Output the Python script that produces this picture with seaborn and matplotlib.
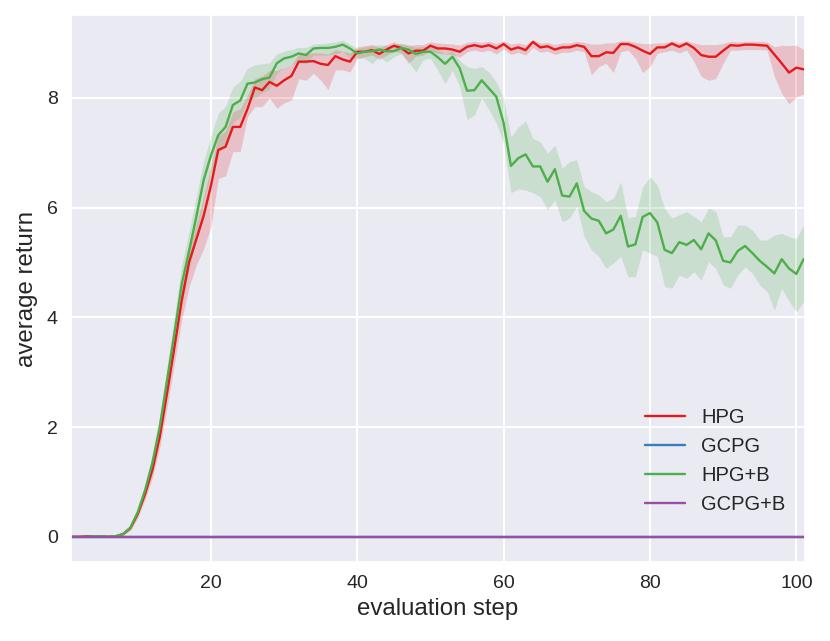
import matplotlib

matplotlib.use("Agg")
import matplotlib.pyplot as plt
import numpy as np
import pandas as pd
import seaborn as sns

steps = list(range(1, 102))
methods = ["HPG", "GCPG", "HPG+B", "GCPG+B"]
colors = ["#e41a1c", "#377eb8", "#4daf4a", "#984ea3"]

hpg_mean = [
    0.00, 0.00, 0.01, 0.01, 0.01, 0.00, 0.01, 0.05, 0.16, 0.42,
    0.78, 1.22, 1.82, 2.62, 3.45, 4.30, 5.00, 5.42, 5.85, 6.40,
    7.05, 7.11, 7.47, 7.47, 7.80, 8.19, 8.14, 8.29, 8.22, 8.32,
    8.40, 8.66, 8.66, 8.67, 8.62, 8.60, 8.76, 8.70, 8.66, 8.84,
    8.84, 8.87, 8.80, 8.88, 8.95, 8.91, 8.81, 8.86, 8.86, 8.95,
    8.90, 8.90, 8.88, 8.84, 8.93, 8.96, 8.93, 8.96, 8.90, 8.98,
    8.88, 8.92, 8.87, 9.02, 8.92, 8.94, 8.88, 8.92, 8.92, 8.96,
    8.93, 8.76, 8.76, 8.83, 8.82, 8.98, 8.98, 8.93, 8.86, 8.80,
    8.92, 8.92, 8.99, 8.93, 8.99, 8.91, 8.78, 8.75, 8.75, 8.86,
    8.96, 8.95, 8.97, 8.97, 8.96, 8.95, 8.79, 8.63, 8.46, 8.55,
    8.52,
]
hpg_lo = [
    0.00, 0.00, 0.00, 0.00, 0.00, 0.00, 0.00, 0.03, 0.12, 0.35,
    0.68, 1.08, 1.62, 2.35, 3.15, 3.95, 4.55, 4.95, 5.25, 5.65,
    6.53, 6.58, 7.02, 7.02, 7.66, 7.84, 7.84, 8.00, 7.81, 7.91,
    7.96, 8.35, 8.32, 8.45, 8.32, 8.15, 8.51, 8.51, 8.47, 8.72,
    8.75, 8.78, 8.70, 8.78, 8.85, 8.82, 8.63, 8.76, 8.78, 8.86,
    8.81, 8.80, 8.79, 8.74, 8.84, 8.87, 8.84, 8.87, 8.80, 8.89,
    8.79, 8.83, 8.78, 8.92, 8.83, 8.85, 8.79, 8.83, 8.83, 8.87,
    8.84, 8.42, 8.57, 8.63, 8.46, 8.84, 8.87, 8.72, 8.46, 8.57,
    8.81, 8.84, 8.87, 8.82, 8.87, 8.66, 8.39, 8.32, 8.35, 8.63,
    8.87, 8.87, 8.88, 8.88, 8.88, 8.87, 8.39, 8.08, 7.89, 8.02,
    8.07,
]
hpg_hi = [
    0.01, 0.01, 0.02, 0.02, 0.02, 0.01, 0.02, 0.07, 0.20, 0.50,
    0.88, 1.35, 2.00, 2.85, 3.70, 4.55, 5.20, 5.70, 6.20, 6.75,
    7.30, 7.40, 7.75, 7.80, 8.05, 8.35, 8.40, 8.50, 8.50, 8.55,
    8.60, 8.80, 8.80, 8.82, 8.82, 8.80, 8.88, 8.85, 8.82, 8.93,
    8.95, 8.97, 8.92, 8.97, 9.02, 8.98, 8.95, 8.97, 8.97, 9.02,
    9.00, 8.99, 8.98, 8.96, 9.01, 9.03, 9.01, 9.03, 8.99, 9.04,
    8.98, 9.00, 8.97, 9.06, 9.00, 9.01, 8.97, 9.00, 9.00, 9.03,
    9.01, 8.98, 8.98, 9.00, 9.00, 9.04, 9.04, 9.01, 8.99, 8.99,
    9.00, 9.00, 9.04, 9.01, 9.04, 9.00, 8.97, 8.97, 8.97, 8.99,
    9.03, 9.02, 9.03, 9.03, 9.03, 9.02, 8.93, 8.96, 8.95, 8.96,
    8.88,
]

hpgb_mean = [
    0.00, 0.00, 0.00, 0.01, 0.01, 0.00, 0.01, 0.05, 0.17, 0.45,
    0.85, 1.35, 2.00, 2.85, 3.70, 4.60, 5.20, 5.83, 6.50, 6.95,
    7.32, 7.47, 7.87, 7.95, 8.26, 8.28, 8.34, 8.37, 8.63, 8.72,
    8.75, 8.81, 8.78, 8.90, 8.91, 8.91, 8.93, 8.97, 8.90, 8.81,
    8.84, 8.85, 8.88, 8.85, 8.85, 8.91, 8.88, 8.80, 8.84, 8.84,
    8.74, 8.62, 8.75, 8.54, 8.13, 8.14, 8.32, 8.17, 8.02, 7.54,
    6.76, 6.90, 6.97, 6.75, 6.75, 6.47, 6.70, 6.22, 6.20, 6.44,
    5.94, 5.80, 5.76, 5.53, 5.60, 5.85, 5.29, 5.33, 5.83, 5.90,
    5.73, 5.23, 5.17, 5.37, 5.32, 5.41, 5.24, 5.53, 5.40, 5.03,
    5.00, 5.21, 5.30, 5.17, 5.03, 4.92, 4.80, 5.06, 4.89, 4.79,
    5.06,
]
hpgb_lo = [
    0.00, 0.00, 0.00, 0.00, 0.00, 0.00, 0.00, 0.03, 0.13, 0.38,
    0.75, 1.20, 1.80, 2.60, 3.40, 4.25, 4.85, 5.45, 6.10, 6.60,
    7.00, 7.15, 7.55, 7.65, 7.95, 8.00, 8.10, 8.15, 8.45, 8.55,
    8.60, 8.65, 8.62, 8.78, 8.78, 8.78, 8.80, 8.85, 8.72, 8.72,
    8.72, 8.62, 8.76, 8.65, 8.75, 8.80, 8.66, 8.47, 8.70, 8.72,
    8.50, 8.26, 8.50, 8.20, 7.60, 7.69, 8.00, 7.78, 7.54, 7.17,
    6.27, 6.34, 6.32, 6.27, 6.20, 5.96, 6.14, 5.74, 5.81, 6.02,
    5.47, 5.23, 5.11, 4.89, 4.99, 5.11, 4.74, 4.74, 5.23, 5.17,
    5.11, 4.56, 4.53, 4.77, 4.71, 4.83, 4.68, 5.01, 4.89, 4.59,
    4.53, 4.77, 4.92, 4.80, 4.59, 4.47, 4.13, 4.53, 4.29, 4.10,
    4.29,
]
hpgb_hi = [
    0.01, 0.01, 0.01, 0.02, 0.02, 0.01, 0.02, 0.07, 0.21, 0.52,
    0.95, 1.50, 2.20, 3.10, 4.00, 4.95, 5.55, 6.20, 6.85, 7.30,
    7.72, 7.85, 8.20, 8.30, 8.54, 8.60, 8.62, 8.64, 8.80, 8.85,
    8.88, 8.92, 8.92, 8.98, 8.99, 9.00, 9.02, 9.05, 8.98, 8.90,
    8.93, 8.95, 8.97, 8.95, 8.95, 9.00, 8.97, 8.92, 8.94, 8.93,
    8.88, 8.80, 8.85, 8.68, 8.57, 8.54, 8.57, 8.47, 8.29, 7.99,
    7.29, 7.47, 7.58, 7.26, 7.20, 6.99, 7.14, 6.72, 6.84, 6.87,
    6.38, 6.29, 6.23, 6.11, 6.17, 6.47, 5.81, 5.84, 6.38, 6.56,
    6.41, 5.99, 5.81, 5.87, 5.93, 5.84, 5.74, 5.99, 5.93, 5.47,
    5.47, 5.68, 5.68, 5.59, 5.41, 5.41, 5.50, 5.53, 5.47, 5.44,
    5.68,
]

# the two GCPG variants never leave zero
gcpg_mean = [0.0] * len(steps)
gcpgb_mean = [0.0] * len(steps)

means = {"HPG": hpg_mean, "GCPG": gcpg_mean, "HPG+B": hpgb_mean, "GCPG+B": gcpgb_mean}
bands = {"HPG": (hpg_lo, hpg_hi), "HPG+B": (hpgb_lo, hpgb_hi)}

df = pd.concat(
    [pd.DataFrame({"step": steps, "value": means[m], "method": m}) for m in methods],
    ignore_index=True,
)

sns.set_theme(style="darkgrid")
plt.rcParams["font.family"] = ["Liberation Sans", "DejaVu Sans"]

fig, ax = plt.subplots(figsize=(8.3, 6.41), dpi=100)
fig.subplots_adjust(left=0.0855, right=0.970, bottom=0.1232, top=0.9766)

sns.lineplot(data=df, x="step", y="value", hue="method", hue_order=methods,
             palette=colors, linewidth=1.7, ax=ax)

for m, c in zip(methods, colors):
    if m in bands:
        lo, hi = bands[m]
        ax.fill_between(steps, lo, hi, color=c, alpha=0.2, linewidth=0)

ax.set_xlim(0.87, 101.2)
ax.set_ylim(-0.46, 9.51)
ax.set_xticks([20, 40, 60, 80, 100])
ax.set_yticks([0, 2, 4, 6, 8])
ax.grid(color="white", linewidth=1.5)
ax.tick_params(axis="both", labelsize=14, length=0, pad=9.5, colors="#262626")
ax.set_xlabel("evaluation step", fontsize=17.3, labelpad=4, color="#262626")
ax.set_ylabel("average return", fontsize=17.3, labelpad=6, color="#262626")

ax.legend(frameon=False, fontsize=14.5, loc="lower right",
          bbox_to_anchor=(0.984, 0.0735), borderaxespad=0,
          handlelength=2, handletextpad=0.8, labelspacing=0.5)

fig.savefig("out.png", dpi=100)
